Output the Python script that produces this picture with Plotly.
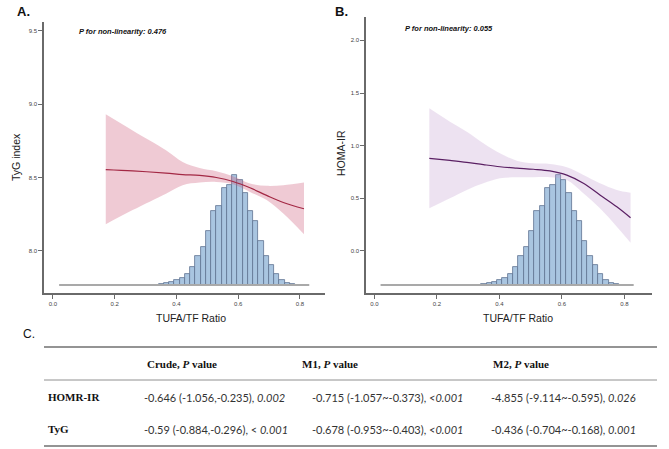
import plotly.graph_objects as go

W, H = 669, 449

# ---------------- data ----------------
tick_x = [0.0, 0.2, 0.4, 0.6, 0.8]
tick_x_text = ["0.0", "0.2", "0.4", "0.6", "0.8"]
tyg_ticks = [8.0, 8.5, 9.0, 9.5]
homa_ticks = [0.0, 0.5, 1.0, 1.5, 2.0]

# histogram of TUFA/TF ratio (shared exposure)
bin_centers = [0.3505, 0.3675, 0.3845, 0.4015, 0.4185, 0.4355, 0.4525, 0.4695,
               0.4865, 0.5035, 0.5205, 0.5375, 0.5545, 0.5715, 0.5885, 0.6055,
               0.6225, 0.6395, 0.6565, 0.6735, 0.6905, 0.7075, 0.7245, 0.7415,
               0.7585, 0.7755]
bin_counts = [4, 6, 8, 15, 20, 32, 55, 87, 115, 162, 222, 238, 291, 299, 330,
              316, 276, 221, 193, 131, 87, 61, 33, 15, 6, 2]
bin_width = 0.017
density_x = [0.02, 0.20, 0.34, 0.50, 0.60, 0.70, 0.78, 0.83]
density_y = [0, 0, 0, 0, 0, 0, 0, 0]

# Panel A: TyG index spline
A_x = [0.171, 0.258, 0.366, 0.42, 0.475, 0.529, 0.583, 0.638, 0.692, 0.746, 0.813]
A_fit = [8.554, 8.545, 8.530, 8.520, 8.514, 8.500, 8.473, 8.430, 8.378, 8.330, 8.287]
A_up = [8.930, 8.820, 8.686, 8.606, 8.565, 8.543, 8.509, 8.459, 8.443, 8.448, 8.466]
A_lo = [8.182, 8.278, 8.390, 8.448, 8.466, 8.470, 8.454, 8.402, 8.346, 8.255, 8.114]

# Panel B: HOMA-IR spline
B_x = [0.176, 0.242, 0.296, 0.349, 0.402, 0.456, 0.509, 0.562, 0.616, 0.669, 0.722, 0.776, 0.82]
B_fit = [0.880, 0.860, 0.842, 0.820, 0.800, 0.787, 0.776, 0.760, 0.720, 0.643, 0.532, 0.420, 0.316]
B_up = [1.355, 1.228, 1.133, 1.023, 0.928, 0.858, 0.832, 0.826, 0.795, 0.722, 0.643, 0.580, 0.554]
B_lo = [0.405, 0.500, 0.580, 0.643, 0.690, 0.700, 0.700, 0.700, 0.674, 0.548, 0.405, 0.231, 0.079]

p_text_A = "P for non-linearity: 0.476"
p_text_B = "P for non-linearity: 0.055"

table_header = ["Crude, <i>P</i> value", "M1, <i>P</i> value", "M2, <i>P</i> value"]
table_rows = ["HOMR-IR", "TyG"]
table_cells = [
    ["-0.646 (-1.056,-0.235), <i>0.002</i>",
     "-0.715 (-1.057~-0.373), <i>&lt;0.001</i>",
     "-4.855 (-9.114~-0.595), <i>0.026</i>"],
    ["-0.59 (-0.884,-0.296), &lt; <i>0.001</i>",
     "-0.678 (-0.953~-0.403), <i>&lt;0.001</i>",
     "-0.436 (-0.704~-0.168), <i>0.001</i>"],
]

# ---------------- helpers ----------------
def fx(p):
    return p / W

def fy(p):
    return 1 - p / H

SANS = "Liberation Sans"
AX_COL = "#6a6a6a"

fig = go.Figure()

panels = [
    dict(x="x", yb="y", yv="y3", fit=A_fit, up=A_up, lo=A_lo, xs=A_x,
         fill="rgba(205,95,125,0.33)", line="#a32844"),
    dict(x="x2", yb="y2", yv="y4", fit=B_fit, up=B_up, lo=B_lo, xs=B_x,
         fill="rgba(195,160,210,0.30)", line="#5a1f63"),
]

for p in panels:
    fig.add_trace(go.Scatter(x=density_x, y=density_y, mode="lines",
                             line=dict(color="#a9a9a9", width=2),
                             xaxis=p["x"], yaxis=p["yb"], hoverinfo="skip", showlegend=False))
    fig.add_trace(go.Bar(x=bin_centers, y=bin_counts, width=bin_width,
                         marker=dict(color="#a9c5e0", line=dict(color="#5f7290", width=0.8)),
                         xaxis=p["x"], yaxis=p["yb"], showlegend=False))
    fig.add_trace(go.Scatter(x=p["xs"], y=p["up"], mode="lines", line=dict(width=0, shape="spline"),
                             xaxis=p["x"], yaxis=p["yv"], showlegend=False, hoverinfo="skip"))
    fig.add_trace(go.Scatter(x=p["xs"], y=p["lo"], mode="lines", line=dict(width=0, shape="spline"),
                             fill="tonexty", fillcolor=p["fill"],
                             xaxis=p["x"], yaxis=p["yv"], showlegend=False, hoverinfo="skip"))
    fig.add_trace(go.Scatter(x=p["xs"], y=p["fit"], mode="lines",
                             line=dict(color=p["line"], width=1.2, shape="spline"),
                             xaxis=p["x"], yaxis=p["yv"], showlegend=False))

tickfont = dict(family=SANS, size=6, color="#444")
xcommon = dict(showgrid=False, zeroline=False, showline=True, linecolor=AX_COL, linewidth=1.5,
               ticks="outside", ticklen=4, tickcolor=AX_COL, tickwidth=1,
               tickvals=tick_x, ticktext=tick_x_text, tickfont=tickfont)
ycommon = dict(showgrid=False, zeroline=False, showline=True, linecolor=AX_COL, linewidth=1.5,
               ticks="outside", ticklen=4, tickcolor=AX_COL, tickwidth=1, tickfont=tickfont,
               tickformat=".1f")

dom_bottom = fy(293)
fig.update_layout(
    width=W, height=H, margin=dict(l=0, r=0, t=0, b=0),
    paper_bgcolor="white", plot_bgcolor="rgba(0,0,0,0)",
    barmode="overlay", bargap=0,
    xaxis=dict(domain=[fx(44), fx(325)], range=[-0.029, 0.881], anchor="y", **xcommon),
    yaxis=dict(domain=[dom_bottom, fy(22)], range=[-24, 789], visible=False, anchor="x"),
    yaxis3=dict(overlaying="y", anchor="x", side="left", range=[7.714, 9.558],
                tickvals=tyg_ticks, **ycommon),
    xaxis2=dict(domain=[fx(366), fx(652)], range=[-0.0266, 0.8886], anchor="y2", **xcommon),
    yaxis2=dict(domain=[dom_bottom, fy(17)], range=[-24, 804], visible=False, anchor="x2"),
    yaxis4=dict(overlaying="y2", anchor="x2", side="left", range=[-0.399, 2.222],
                tickvals=homa_ticks, **ycommon),
)

ann = []
def add_text(xp, yp, text, size, family=SANS, xanchor="left", color="#111", angle=0):
    ann.append(dict(x=fx(xp), y=fy(yp), xref="paper", yref="paper", text=text,
                    showarrow=False, xanchor=xanchor, yanchor="middle", textangle=angle,
                    font=dict(family=family, size=size, color=color)))

add_text(15, 12, "<b>A.</b>", 13)
add_text(333, 12, "<b>B.</b>", 13)
add_text(21, 334, "C.", 12)
add_text(122.5, 32, "<b><i>" + p_text_A + "</i></b>", 7.5, xanchor="center")
add_text(448.5, 28, "<b><i>" + p_text_B + "</i></b>", 7.5, xanchor="center")
add_text(16, 157, "TyG index", 10.5, xanchor="center", color="#222", angle=-90)
add_text(341, 153, "HOMA-IR", 10.5, xanchor="center", color="#222", angle=-90)
add_text(191, 318, "TUFA/TF Ratio", 10.5, xanchor="center", color="#222")
add_text(518, 318, "TUFA/TF Ratio", 10.5, xanchor="center", color="#222")

# table
header_x = [145, 300, 491]
cell_x = [142, 310, 489]
header_y = 364
row_y = [397, 429]
SERIF = "Liberation Serif"
for hx, h in zip(header_x, table_header):
    add_text(hx, header_y, "<b>" + h + "</b>", 11, family=SERIF)
for ry, name, cells in zip(row_y, table_rows, table_cells):
    add_text(46, ry, "<b>" + name + "</b>", 11, family=SERIF)
    for cx, c in zip(cell_x, cells):
        add_text(cx, ry, c, 11, family="Lato", color="#333")

fig.update_layout(annotations=ann)

shapes = []
for yp, lw, col in [(347, 1.5, "#707070"), (380, 1.0, "#909090"), (446, 1.5, "#707070")]:
    shapes.append(dict(type="line", xref="paper", yref="paper", x0=fx(44), x1=fx(657),
                       y0=fy(yp), y1=fy(yp), line=dict(color=col, width=lw)))
fig.update_layout(shapes=shapes)

fig.write_html("out.html", config={"displayModeBar": False},
               post_script="document.body.style.margin='0';document.body.style.overflow='hidden';")
